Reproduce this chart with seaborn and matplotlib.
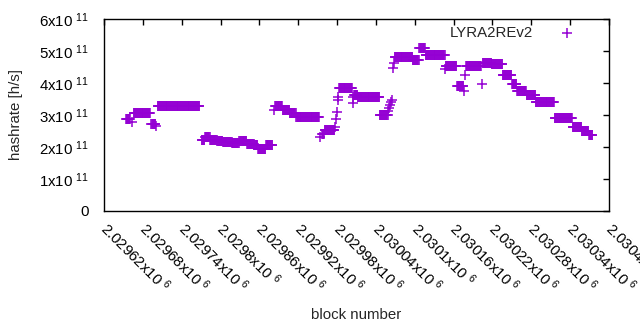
import numpy as np
import pandas as pd
import matplotlib
matplotlib.use('Agg')
import matplotlib.pyplot as plt
import matplotlib.transforms as mtransforms
import seaborn as sns
from matplotlib.ticker import FixedLocator, FuncFormatter

#  Data (runs of blocks with the same hashrate, values in 1e11 h/s)
run_start = [2029654, 2029663, 2029666, 2029693, 2029701, 2029703, 2029771, 2029776,
             2029784, 2029795, 2029804, 2029818, 2029829, 2029841, 2029852, 2029858,
             2029870, 2029883, 2029884, 2029896, 2029907, 2029917, 2029954, 2029957,
             2029961, 2029977, 2029978, 2029980, 2029981, 2029982, 2029983, 2030004,
             2030005, 2030006, 2030012, 2030046, 2030059, 2030060, 2030062, 2030063,
             2030065, 2030066, 2030068, 2030069, 2030097, 2030107, 2030117, 2030147,
             2030148, 2030165, 2030176, 2030178, 2030179, 2030204, 2030205, 2030219,
             2030236, 2030250, 2030258, 2030273, 2030287, 2030316, 2030344, 2030358,
             2030369]
run_end = [2029660, 2029663, 2029691, 2029699, 2029701, 2029767, 2029775, 2029783,
           2029794, 2029803, 2029817, 2029828, 2029840, 2029851, 2029857, 2029869,
           2029880, 2029883, 2029895, 2029906, 2029916, 2029952, 2029954, 2029960,
           2029976, 2029977, 2029978, 2029980, 2029981, 2029982, 2030003, 2030004,
           2030005, 2030011, 2030045, 2030058, 2030059, 2030060, 2030062, 2030063,
           2030065, 2030066, 2030068, 2030096, 2030106, 2030116, 2030146, 2030147,
           2030164, 2030175, 2030176, 2030178, 2030202, 2030204, 2030218, 2030235,
           2030249, 2030257, 2030272, 2030286, 2030315, 2030343, 2030357, 2030368,
           2030374]
run_value = [2.89, 2.78, 3.05, 2.73, 2.66, 3.27, 2.21, 2.31,
             2.22, 2.20, 2.17, 2.14, 2.19, 2.09, 2.05, 1.95,
             2.06, 3.16, 3.27, 3.16, 3.06, 2.95, 2.31, 2.42,
             2.52, 2.62, 2.87, 3.10, 3.47, 3.56, 3.83, 3.37,
             3.56, 3.62, 3.56, 3.00, 3.12, 3.22, 3.32, 3.40,
             3.47, 4.47, 4.62, 4.80, 4.72, 5.10, 4.89, 4.44,
             4.53, 3.90, 3.75, 4.25, 4.53, 3.97, 4.62, 4.58,
             4.24, 3.96, 3.75, 3.63, 3.40, 2.92, 2.64, 2.49,
             2.38]

x_ticks = list(range(2029620, 2030401, 60))
y_ticks = [0, 1e11, 2e11, 3e11, 4e11, 5e11, 6e11]

blocks = np.concatenate([np.arange(s, e + 1) for s, e in zip(run_start, run_end)])
rates = np.concatenate([np.full(e - s + 1, v * 1e11)
                        for s, e, v in zip(run_start, run_end, run_value)])
df = pd.DataFrame({'block': blocks, 'hashrate': rates})

#  Plot
sns.set_style('white')
plt.rcParams['font.family'] = ['Liberation Sans', 'DejaVu Sans']
plt.rcParams['mathtext.fontset'] = 'custom'
plt.rcParams['mathtext.rm'] = 'Liberation Sans'
plt.rcParams['mathtext.default'] = 'regular'

fig = plt.figure(figsize=(6.4, 3.3), dpi=100)
ax = fig.add_axes([104 / 640, 1 - 211 / 330, 505 / 640, 192 / 330])

sns.scatterplot(data=df, x='block', y='hashrate', marker='+', s=45,
                color='#9400D3', linewidth=1.1, label='LYRA2REv2', ax=ax)

ax.set_xlim(2029620, 2030400)
ax.set_ylim(0, 6e11)
ax.xaxis.set_major_locator(FixedLocator(x_ticks))
ax.yaxis.set_major_locator(FixedLocator(y_ticks))
ax.xaxis.set_major_formatter(FuncFormatter(lambda v, p: f'{v / 1e6:g}x10 $^{{6}}$'))
ax.yaxis.set_major_formatter(
    FuncFormatter(lambda v, p: '0' if v == 0 else f'{v / 1e11:.0f}x10 $^{{11}}$'))

for sp in ax.spines.values():
    sp.set_visible(True)
    sp.set_color('black')
    sp.set_linewidth(1.0)
ax.tick_params(direction='in', length=4, width=1, top=True, right=True,
               labelsize=10.8, colors='black')
ax.tick_params(axis='y', pad=11)
ax.tick_params(axis='x', pad=6)

shift = mtransforms.ScaledTranslation(0.06, 0, fig.dpi_scale_trans)
for lab in ax.get_xticklabels():
    lab.set_rotation(-45)
    lab.set_ha('left')
    lab.set_va('top')
    lab.set_rotation_mode('anchor')
    lab.set_transform(lab.get_transform() + shift)

ax.set_xlabel('block number', fontsize=10.8)
ax.set_ylabel('hashrate [h/s]', fontsize=10.8)
ax.xaxis.set_label_coords(0.5, -0.542)
ax.xaxis.label.set_va('center')
ax.yaxis.set_label_coords(-0.174, 0.5)
ax.yaxis.label.set_va('center')

leg = ax.legend(loc='upper right', bbox_to_anchor=(0.965, 1.01), frameon=False,
                markerfirst=False, fontsize=10.8, handletextpad=1.3,
                borderaxespad=0.2)

plt.savefig('out.png', dpi=100)
